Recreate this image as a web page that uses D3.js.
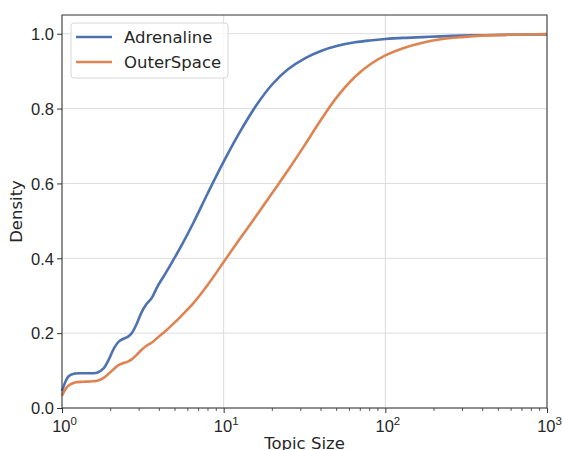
<!DOCTYPE html>
<html>
<head>
<meta charset="utf-8">
<style>
    html, body { margin: 0; padding: 0; background: #ffffff; }
    svg { display: block; font-family: "DejaVu Sans", sans-serif; }
    .grid line { stroke: #dcdcdc; stroke-width: 1; }
    .tick text { fill: #262626; }
</style>
<script src="https://cdn.jsdelivr.net/npm/d3@7"></script>
</head>
<body>
<div id="chart"></div>
<script>
    // topic sizes (x) and cumulative density for each dataset
    var sizes = [1, 1.05, 1.1, 1.2, 1.35, 1.5, 1.65, 1.8, 1.95, 2.1, 2.25, 2.4, 2.55, 2.7, 2.9, 3.1, 3.3, 3.6, 3.9, 4.3, 4.8, 5.5, 6.5, 8, 10, 12.5, 16, 20, 25, 32, 40, 50, 65, 80, 100, 130, 170, 220, 300, 400, 550, 750, 1000];
    var adrenaline = [0.045, 0.07, 0.085, 0.092, 0.093, 0.093, 0.094, 0.105, 0.13, 0.16, 0.178, 0.185, 0.19, 0.2, 0.225, 0.255, 0.275, 0.295, 0.325, 0.355, 0.39, 0.435, 0.495, 0.575, 0.658, 0.735, 0.81, 0.865, 0.905, 0.935, 0.954, 0.967, 0.977, 0.982, 0.986, 0.989, 0.991, 0.993, 0.995, 0.996, 0.997, 0.998, 0.998];
    var outerSpace = [0.033, 0.05, 0.06, 0.068, 0.07, 0.071, 0.073, 0.08, 0.092, 0.105, 0.115, 0.12, 0.124, 0.13, 0.142, 0.155, 0.165, 0.175, 0.188, 0.203, 0.222, 0.247, 0.28, 0.33, 0.39, 0.45, 0.515, 0.575, 0.635, 0.705, 0.77, 0.83, 0.885, 0.917, 0.942, 0.962, 0.976, 0.985, 0.991, 0.995, 0.997, 0.998, 0.999];
    var seriesNames = ["Adrenaline", "OuterSpace"];
    var seriesColors = ["#4c72b0", "#dd8452"];
    var yTicks = [0, 0.2, 0.4, 0.6, 0.8, 1.0];
    var xTicks = [1, 10, 100, 1000];

    var W = 563, H = 450;
    var margin = { top: 15, right: 16, bottom: 42, left: 62 };
    var width = W - margin.left - margin.right,
        height = H - margin.top - margin.bottom;
    var fs = "16.5px";

    var svg = d3.select("#chart").append("svg")
        .attr("width", W)
        .attr("height", H);

    var g = svg.append("g")
        .attr("transform", "translate(" + margin.left + "," + margin.top + ")");

    var x = d3.scaleLog().domain([1, 1000]).range([0, width]);
    var y = d3.scaleLinear().domain([0, 1.05]).range([height, 0]);

    // grid
    g.append("g").attr("class", "grid")
        .selectAll("line").data(yTicks).enter().append("line")
        .attr("x1", 0).attr("x2", width)
        .attr("y1", function (d) { return y(d); })
        .attr("y2", function (d) { return y(d); });
    g.append("g").attr("class", "grid")
        .selectAll("line").data(xTicks).enter().append("line")
        .attr("y1", 0).attr("y2", height)
        .attr("x1", function (d) { return x(d); })
        .attr("x2", function (d) { return x(d); });

    // lines
    var line = d3.line()
        .x(function (d) { return x(d[0]); })
        .y(function (d) { return y(d[1]); })
        .curve(d3.curveCatmullRom.alpha(0.5));

    [adrenaline, outerSpace].forEach(function (vals, i) {
        g.append("path")
            .datum(sizes.map(function (s, j) { return [s, vals[j]]; }))
            .attr("fill", "none")
            .attr("stroke", seriesColors[i])
            .attr("stroke-width", 2.6)
            .attr("d", line);
    });

    // minor ticks on x
    var minor = [];
    [1, 10, 100].forEach(function (dec) {
        for (var k = 2; k <= 9; k++) minor.push(dec * k);
    });
    g.append("g").selectAll("line").data(minor).enter().append("line")
        .attr("x1", function (d) { return x(d); })
        .attr("x2", function (d) { return x(d); })
        .attr("y1", height).attr("y2", height + 3)
        .attr("stroke", "#333").attr("stroke-width", 0.8);

    // x axis
    var xAxis = d3.axisBottom(x).tickValues(xTicks).tickSize(5).tickPadding(3).tickFormat("");
    var xg = g.append("g")
        .attr("transform", "translate(0," + height + ")")
        .call(xAxis);
    xg.select(".domain").remove();
    xg.selectAll(".tick line").attr("stroke", "#333");
    xg.selectAll(".tick").append("text")
        .attr("y", 24)
        .attr("x", 2)
        .attr("text-anchor", "middle")
        .style("font-size", fs)
        .attr("fill", "#262626")
        .each(function (d) {
            var t = d3.select(this);
            t.append("tspan").text("10");
            t.append("tspan").attr("dy", -7).style("font-size", "11.5px")
                .text(String(Math.round(Math.log10(d))));
        });

    // y axis
    var yAxis = d3.axisLeft(y).tickValues(yTicks).tickSize(5).tickPadding(3)
        .tickFormat(d3.format(".1f"));
    var yg = g.append("g").call(yAxis);
    yg.select(".domain").remove();
    yg.selectAll(".tick line").attr("stroke", "#333");
    yg.selectAll(".tick text").style("font-size", fs).attr("dy", "0.35em");

    // frame
    g.append("rect")
        .attr("width", width).attr("height", height)
        .attr("fill", "none").attr("stroke", "#333").attr("stroke-width", 1);

    // axis labels
    svg.append("text")
        .attr("x", margin.left + width / 2).attr("y", 449)
        .attr("text-anchor", "middle")
        .style("font-size", fs).attr("fill", "#262626")
        .text("Topic Size");
    svg.append("text")
        .attr("transform", "translate(22," + (margin.top + height / 2) + ") rotate(-90)")
        .attr("text-anchor", "middle")
        .style("font-size", fs).attr("fill", "#262626")
        .text("Density");

    // legend
    var lg = svg.append("g").attr("transform", "translate(71,23)");
    lg.append("rect")
        .attr("width", 157).attr("height", 55).attr("rx", 3)
        .attr("fill", "#ffffff").attr("fill-opacity", 0.8)
        .attr("stroke", "#d6d6d6");
    seriesNames.forEach(function (name, i) {
        var yy = 14 + i * 25;
        lg.append("line")
            .attr("x1", 5).attr("x2", 41).attr("y1", yy).attr("y2", yy)
            .attr("stroke", seriesColors[i]).attr("stroke-width", 2.6);
        lg.append("text")
            .attr("x", 53).attr("y", yy).attr("dy", "0.35em")
            .style("font-size", fs).attr("fill", "#262626")
            .text(name);
    });
</script>
</body>
</html>
